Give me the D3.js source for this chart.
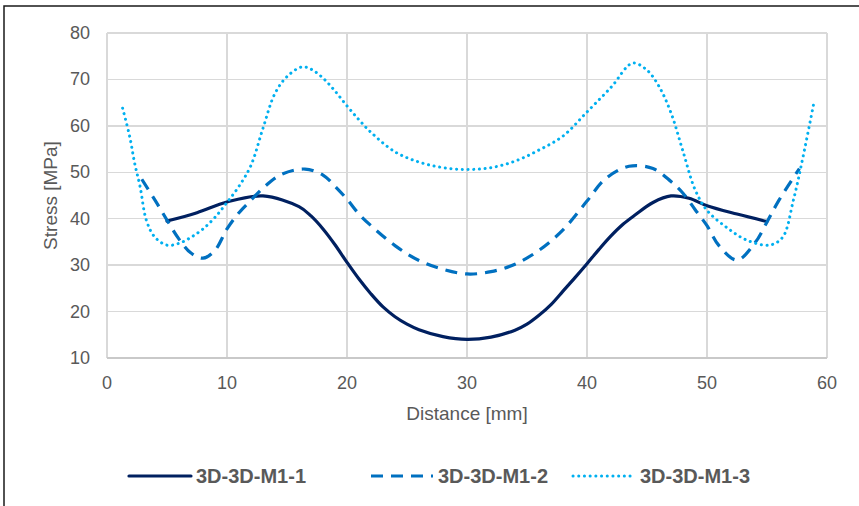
<!DOCTYPE html>
<html>
<head>
<meta charset="utf-8">
<title>Stress vs distance</title>
<script src="https://cdn.jsdelivr.net/npm/d3@7"></script>
<style>
body{
  margin:0;
  background:#fff}

svg{
  display:block;
  font-family:"Liberation Sans", Arial, sans-serif}

.grid line{
  stroke:#d9d9d9;
  stroke-width:1.5;
  shape-rendering:crispEdges}

.tick-label{
  font-size:18px;
  fill:#595959}

.axis-title{
  font-size:19px;
  fill:#595959}

.legend text{
  font-size:20px;
  font-weight:700;
  fill:#595959}
</style>
</head>
<body>
<script>
// Series values (distance in mm, stress in MPa)
const names = ['3D-3D-M1-1', '3D-3D-M1-2', '3D-3D-M1-3']

const x1 = [5, 7.5, 10, 13, 16, 17, 18, 19, 20, 21, 22, 23, 24, 25, 26, 28, 30, 32, 34, 35, 36, 37, 38, 39, 40, 41, 42, 43, 44, 45.5, 47, 48.5, 50, 52.5, 55]
const y1 = [39.5, 41.3, 43.6, 44.9, 42.6, 40.6, 37.8, 34.4, 30.6, 27, 23.8, 21, 18.9, 17.3, 16.1, 14.6, 14, 14.5, 16, 17.3, 19.2, 21.5, 24.4, 27.3, 30.3, 33.4, 36.3, 38.8, 40.8, 43.5, 44.9, 44.4, 42.8, 41, 39.4]

const x2 = [2.9, 4, 5, 6, 7, 8, 9, 10, 11, 12, 13, 14.5, 16.5, 18, 19, 20, 21, 22, 24, 26, 28, 30, 32, 34, 36, 38, 40, 41.5, 43.5, 45.5, 47, 48, 49, 50, 51, 52.5, 54, 55, 56, 57.7]
const y2 = [48.5, 44, 39.7, 35.6, 32.6, 31.5, 33.2, 37.8, 41.3, 44, 46.6, 49.5, 50.7, 49.4, 47, 44.2, 41, 38.5, 34.2, 31, 29.1, 28.1, 28.6, 30.2, 33.2, 37.6, 43.8, 48.5, 51.3, 50.8, 48, 45.5, 42, 38.5, 34.2, 31.1, 34.8, 39.3, 44, 50.8]

const x3 = [1.3, 1.9, 2.3, 2.75, 3.3, 4, 5, 6, 7, 8, 9, 10, 11, 12, 13, 14, 15, 16.25, 17, 18, 19, 20, 21, 22, 24, 26, 28, 30, 32, 34, 36, 38, 40, 42, 43.8, 45, 46, 47, 48, 49, 50, 51.7, 53.3, 55.2, 56.3, 57.2, 58, 58.9]
const y3 = [63.8, 57.6, 52, 47, 39.5, 36, 34.3, 34.7, 36, 37.8, 40.3, 43.5, 47, 51.5, 59.5, 67, 70.6, 72.7, 72.2, 70.3, 67.5, 64.3, 61.3, 58.6, 54.4, 52.2, 51, 50.6, 51, 52.4, 54.8, 57.8, 63, 68.3, 73.5, 72, 68.5, 62.8, 54.5, 46.3, 41.8, 38, 35.4, 34.3, 36, 44, 53.3, 64.9]

const xTicks = [0, 10, 20, 30, 40, 50, 60]
const yTicks = [10, 20, 30, 40, 50, 60, 70, 80]

const W = 859, H = 506

const svg = d3.select('body').append('svg')
    .attr('width', W)
    .attr('height', H)

// Chart frame (only top and left edges are inside the picture)
svg.append('path')
    .attr('d', `M4,${H} L4,6 L${W},6`)
    .attr('fill', 'none')
    .attr('stroke', '#1a1a1a')
    .attr('stroke-width', 1.5)

const x = d3.scaleLinear().domain([0, 60]).range([107, 827])
const y = d3.scaleLinear().domain([10, 80]).range([358, 33])

// Grid
const grid = svg.append('g').attr('class', 'grid')
grid.selectAll('.v').data(xTicks).enter().append('line')
    .attr('x1', d => x(d)).attr('x2', d => x(d))
    .attr('y1', y(80)).attr('y2', y(10))
grid.selectAll('.h').data(yTicks).enter().append('line')
    .attr('x1', x(0)).attr('x2', x(60))
    .attr('y1', d => y(d)).attr('y2', d => y(d))
    .style('stroke', d => d === 10 ? '#c9c9c9' : null)

// Tick labels
svg.selectAll('.xt').data(xTicks).enter().append('text')
    .attr('class', 'tick-label')
    .attr('x', d => x(d))
    .attr('y', y(10) + 31)
    .attr('text-anchor', 'middle')
    .text(d => d)

svg.selectAll('.yt').data(yTicks).enter().append('text')
    .attr('class', 'tick-label')
    .attr('x', x(0) - 17)
    .attr('y', d => y(d) + 6)
    .attr('text-anchor', 'end')
    .text(d => d)

// Axis titles
svg.append('text')
    .attr('class', 'axis-title')
    .attr('x', (x(0) + x(60)) / 2)
    .attr('y', 420)
    .attr('text-anchor', 'middle')
    .text('Distance [mm]')

svg.append('text')
    .attr('class', 'axis-title')
    .attr('transform', `translate(57, ${(y(10) + y(80)) / 2}) rotate(-90)`)
    .attr('text-anchor', 'middle')
    .text('Stress [MPa]')

// Lines
const series = [
  {name: names[0], xs: x1, ys: y1, color: '#002060', dash: null, cap: 'round', width: 3.2},
  {name: names[1], xs: x2, ys: y2, color: '#0070c0', dash: '12,8', cap: 'butt', width: 3.2},
  {name: names[2], xs: x3, ys: y3, color: '#00b0f0', dash: '0.1,5.6', cap: 'round', width: 3}
]

const line = d3.line()
    .x(d => x(d[0]))
    .y(d => y(d[1]))
    .curve(d3.curveCatmullRom.alpha(0.5))

svg.selectAll('.series').data(series).enter().append('path')
    .attr('class', 'series')
    .attr('d', s => line(s.xs.map((v, i) => [v, s.ys[i]])))
    .attr('fill', 'none')
    .attr('stroke', s => s.color)
    .attr('stroke-width', s => s.width)
    .attr('stroke-dasharray', s => s.dash)
    .attr('stroke-linecap', s => s.cap)
    .attr('stroke-linejoin', 'round')

// Legend
const legendX = [129, 371, 573]
const legend = svg.append('g').attr('class', 'legend')
const items = legend.selectAll('g').data(series).enter().append('g')
    .attr('transform', (d, i) => `translate(${legendX[i]}, 476)`)

items.append('line')
    .attr('x1', 0).attr('x2', 62)
    .attr('y1', 0).attr('y2', 0)
    .attr('stroke', s => s.color)
    .attr('stroke-width', s => s.width)
    .attr('stroke-dasharray', s => s.dash)
    .attr('stroke-linecap', s => s.cap)

items.append('text')
    .attr('x', 67)
    .attr('y', 7)
    .text(s => s.name)
</script>
</body>
</html>
